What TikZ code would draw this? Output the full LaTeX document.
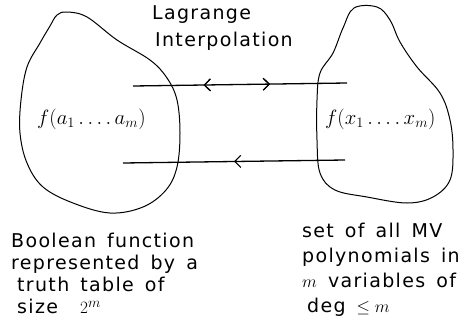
\documentclass[tikz,border=0pt]{standalone}
\usepackage{fontspec}
\setmainfont{DejaVu Sans}[LetterSpace=7, WordSpace=1.5]
\usetikzlibrary{arrows.meta,decorations.markings}

\tikzset{
  blob/.style={line width=1pt},
  map/.style={line width=1.3pt},
  tipfwd/.style={postaction={decorate}, decoration={markings,
      mark=at position #1 with {\arrow{Straight Barb[length=6pt,width=12pt,line width=1.1pt]}}}},
  tipback/.style={postaction={decorate}, decoration={markings,
      mark=at position #1 with {\arrowreversed{Straight Barb[length=6pt,width=12pt,line width=1.1pt]}}}},
  caption/.style={align=left, anchor=north west, inner sep=0pt,
      font=\fontsize{19}{#1}\selectfont},
  fval/.style={anchor=base west, inner sep=0pt, font=\fontsize{21.5}{24}\selectfont}
}

\begin{document}
\begin{tikzpicture}[x=1pt, y=-1pt]
  \useasboundingbox (0,0) rectangle (465,324);

  % the two sets
  \draw[blob] plot[smooth cycle, tension=0.6] coordinates {
    (50,26) (57,15) (67,12) (87,17) (117,40) (150,60) (167,78) (177,100)
    (180,133) (177,167) (166,190) (143,207) (110,213) (73,203) (43,187)
    (27,163) (20,133) (21,100) (27,67) (40,43)};
  \draw[blob] plot[smooth cycle, tension=0.6] coordinates {
    (354,8) (377,7) (390,20) (400,42) (417,67) (440,93) (450,120) (453,150)
    (450,180) (433,197) (407,203) (367,197) (335,190) (320,173) (317,140)
    (317,100) (320,73) (333,53) (343,28)};

  \node[fval] (fa) at (37,124) {$f(a_1\,.\,.\,.\,.\,a_m)$};
  \node[fval] (fx) at (325,124) {$f(x_1\,.\,.\,.\,.\,x_m)$};

  % the maps between them
  \coordinate (tl) at (133,86);
  \coordinate (tr) at (347,83);
  \coordinate (bl) at (123,163);
  \coordinate (br) at (345,160);
  \draw[map, tipback=0.33, tipfwd=0.64] (tl) -- (tr);
  \draw[map, tipback=0.5] (bl) -- (br);

  \node[caption=27] (lagr) at (152,5) {Lagrange\\\hspace*{3pt}Interpolation};

  \node[caption=22] (bool) at (11,233) {Boolean function\\represented by a\\\hspace*{6pt}truth table of\\\hspace*{6pt}size \ $2^m$};
  \node[caption=25] (poly) at (302,223) {set of all MV\\polynomials in\\$m$ variables of\\\hspace*{5pt}deg $\leq m$};
\end{tikzpicture}
\end{document}
